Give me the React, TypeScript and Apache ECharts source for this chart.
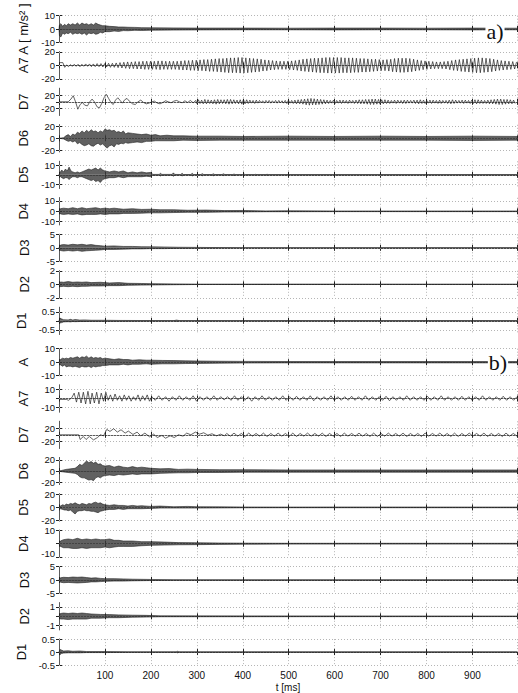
import React, { useEffect, useRef } from "react";
import * as echarts from "echarts";

// ---------------- data ----------------
const T_MAX = 997;
const xTickLabels = [100, 200, 300, 400, 500, 600, 700, 800, 900];

// envelope bands: [t(ms), upper, lower]
const aA_env = [[0,0,0],[1,3,-5],[4,4,-6],[8,2,-3],[12,3.5,-4],[16,2.5,-3],[20,4,-3.5],[25,3,-2.5],[30,4,-4],[35,3,-3],[40,4.5,-3.5],[45,3,-3],[50,4.5,-4],[55,3.5,-3],[60,4,-4.5],[65,3,-3],[70,4,-3.5],[75,3,-3],[80,4.5,-4],[85,3.5,-3.5],[90,3,-2.5],[95,2.5,-3],[100,2.5,-2],[110,2,-2],[120,1.8,-1.5],[130,1.5,-1.8],[140,1.5,-1.2],[150,1.3,-1.3],[165,1.2,-1],[180,1,-1.1],[200,0.9,-0.9],[250,0.8,-0.8],[300,0.7,-0.7],[400,0.7,-0.6],[500,0.6,-0.6],[600,0.7,-0.7],[700,0.7,-0.6],[800,0.6,-0.6],[900,0.7,-0.7],[997,0.6,-0.6]];
const aD6_env = [[0,0,0],[10,1,-1],[15,4,-3],[20,6,-5],[25,3,-4],[30,7,-6],[35,5,-4],[40,10,-9],[45,8,-7],[50,12,-10],[55,9,-12],[60,13,-11],[65,10,-9],[70,14,-12],[75,11,-13],[80,12,-10],[85,9,-8],[90,12,-11],[95,10,-9],[100,15,-13],[105,13,-16],[110,14,-12],[115,12,-11],[120,13,-14],[125,10,-9],[130,11,-10],[135,9,-8],[140,12,-9],[145,7,-7],[150,9,-8],[160,8,-7],[170,7,-6],[180,6,-7],[190,7,-5],[200,5,-5],[210,6,-4],[220,4,-4],[235,5,-4],[250,4,-4],[270,4,-3],[300,3.5,-3.5],[350,3.5,-3],[400,3,-3],[500,3.5,-3],[600,3,-3],[700,3.5,-3],[800,3,-3],[900,3.5,-3.5],[997,3,-3]];
const aD5_env = [[0,0,0],[3,3,-2],[6,5,-3],[10,3,-4],[14,6,-3],[18,4,-3],[22,8,-5],[26,4,-3],[30,3,-2],[35,2,-2],[40,3,-3],[45,2,-2],[50,3,-2],[55,4,-3],[60,5,-4],[65,6,-5],[70,5,-6],[75,6,-5],[80,7,-7],[85,5,-6],[90,7,-8],[95,5,-5],[100,4,-4],[110,3,-3],[120,4,-3],[130,3,-2],[140,4,-3],[150,2,-2],[160,3,-2],[170,2,-2],[180,3,-2],[190,2,-1.5],[200,2.5,-2],
 [204,0.4,-0.4],[218,0.4,-0.4],[221,1.5,-1.2],[224,0.4,-0.4],[246,0.4,-0.4],[249,2,-1.5],[252,0.4,-0.4],[265,0.3,-0.3],[268,1.5,-1.2],[271,0.3,-0.3],[287,0.3,-0.3],[290,1.5,-1.2],[293,0.3,-0.3],[309,0.3,-0.3],[312,1.2,-1],[315,0.3,-0.3],[333,0.3,-0.3],[336,1,-1],[339,0.3,-0.3],[355,0.3,-0.3],[358,1,-0.8],[361,0.3,-0.3],[378,0.2,-0.2],[381,0.8,-0.8],[384,0.2,-0.2],[400,0.2,-0.2],[403,0.7,-0.6],[406,0.2,-0.2],[425,0.2,-0.2],[428,0.5,-0.5],[431,0.2,-0.2],[450,0.2,-0.2],[453,0.5,-0.4],[456,0.2,-0.2],[997,0.2,-0.2]];
const aD4_env = [[0,0,0],[3,2.5,-2.5],[10,3,-3],[20,2.5,-2.5],[30,3.5,-3],[40,2.5,-2.5],[50,3.5,-3.5],[60,2.5,-3],[70,3,-3],[80,3.5,-3],[90,2.5,-2.5],[100,3,-3],[110,2.5,-2.5],[120,3,-2.5],[130,2.5,-2.5],[140,2,-2],[160,2.5,-2],[180,1.8,-1.8],[200,2,-1.5],[220,1.5,-1.5],[250,1.5,-1.2],[280,1,-1],[320,1.2,-1],[360,0.7,-0.7],[400,0.8,-0.6],[450,0.4,-0.4],[500,0.5,-0.4],[600,0.3,-0.3],[997,0.3,-0.3]];
const aD3_env = [[0,0,0],[3,1,-1],[10,1.2,-1.2],[20,1,-1],[30,1.3,-1.2],[40,1.1,-1],[50,1.3,-1.3],[60,1,-1.1],[70,1.2,-1],[80,0.9,-0.9],[90,0.8,-0.8],[100,0.6,-0.6],[120,0.7,-0.6],[140,0.5,-0.5],[160,0.5,-0.4],[180,0.4,-0.4],[200,0.35,-0.3],[230,0.3,-0.3],[260,0.2,-0.2],[300,0.15,-0.15],[350,0.08,-0.08],[400,0.05,-0.05],[997,0.05,-0.05]];
const aD2_env = [[0,0,0],[3,0.35,-0.35],[10,0.3,-0.3],[20,0.4,-0.35],[30,0.3,-0.3],[40,0.35,-0.35],[50,0.3,-0.3],[60,0.35,-0.3],[70,0.25,-0.25],[90,0.3,-0.25],[110,0.2,-0.2],[130,0.25,-0.2],[150,0.15,-0.15],[180,0.12,-0.12],[200,0.1,-0.1],[250,0.06,-0.06],[300,0.03,-0.03],[997,0.02,-0.02]];
const aD1_env = [[0,0,0],[2,0.15,-0.12],[6,0.1,-0.1],[10,0.06,-0.06],[20,0.05,-0.05],[25,0.08,-0.06],[30,0.04,-0.04],[35,0.07,-0.05],[45,0.04,-0.04],[55,0.05,-0.04],[70,0.03,-0.03],[100,0.03,-0.03],[130,0.02,-0.02],[250,0.01,-0.01],[256,0.04,-0.03],[262,0.01,-0.01],[997,0.01,-0.01]];

const bA_env = [[0,0,0],[3,2,-2],[8,3,-3],[12,2.5,-2],[16,3,-3.5],[20,2.5,-3],[25,3.5,-3],[30,3,-3.5],[35,3.5,-3],[40,4,-3.5],[45,3,-4],[50,4,-3],[55,3.5,-3.5],[60,4.5,-3.5],[65,3,-3],[70,4,-4],[75,3,-3],[80,3.5,-3.5],[85,3,-3],[90,3.5,-3],[95,2.5,-2.5],[100,3,-2.5],[110,2.5,-2],[120,2,-2],[130,2.5,-2],[140,2,-1.5],[150,2,-2],[160,1.5,-1.5],[175,1.8,-1.5],[190,1.5,-1.2],[200,1.5,-1.5],[225,1.3,-1.2],[250,1.2,-1.2],[275,1,-1],[300,0.9,-0.9],[350,0.7,-0.7],[400,0.6,-0.6],[500,0.5,-0.5],[600,0.5,-0.5],[700,0.5,-0.5],[800,0.5,-0.5],[900,0.5,-0.5],[997,0.5,-0.5]];
const bD6_env = [[0,0,0],[5,1,-1],[15,3,-2],[25,4,-3],[35,5,-4],[40,8,-6],[45,12,-10],[50,10,-12],[55,14,-12],[60,18,-14],[65,15,-16],[70,17,-15],[75,14,-17],[80,16,-12],[85,12,-10],[90,13,-12],[95,10,-9],[100,9,-8],[110,10,-7],[120,7,-8],[130,9,-6],[140,7,-7],[150,6,-6],[160,8,-5],[170,6,-6],[180,7,-5],[190,6,-5],[200,5,-5],[220,4,-4],[240,4.5,-3.5],[260,3,-3],[280,3.5,-3],[300,3,-2.5],[350,2.5,-2.5],[400,2.5,-2],[500,2,-2],[600,2,-2],[800,2,-2],[997,2,-2]];
const bD5_env = [[0,0,0],[3,2,-2],[8,4,-3],[12,3,-4],[16,5,-4],[20,4,-5],[25,6,-4],[30,5,-7],[35,7,-10],[40,5,-6],[45,4,-5],[50,6,-5],[55,5,-4],[60,4,-5],[65,6,-5],[70,5,-6],[75,7,-6],[80,8,-7],[85,6,-8],[90,7,-6],[95,5,-5],[100,4,-4],[110,3,-3],[120,4,-3],[130,3,-2],[140,3,-3],[150,2,-2],[160,3,-2],[170,2,-2],[180,2.5,-2],[200,1.5,-1.5],[220,2,-1],[250,1,-1],[280,1.5,-1],[300,1,-1],[350,0.8,-0.8],[400,0.6,-0.6],[500,0.5,-0.5],[600,0.6,-0.5],[997,0.5,-0.5]];
const bD4_env = [[0,0,0],[3,2,-2],[10,3,-3],[20,3.5,-3],[30,3,-3.5],[40,4,-3.5],[50,3,-3],[60,3.5,-3.5],[70,3,-3],[80,3.5,-3],[90,3,-3],[100,3,-2.5],[110,3.5,-3],[120,2.5,-2.5],[130,2.5,-2],[140,2,-2],[160,2,-2],[180,1.5,-1.5],[200,1.5,-1.2],[230,1.2,-1],[260,0.8,-0.8],[300,0.7,-0.7],[350,0.5,-0.5],[400,0.4,-0.4],[500,0.3,-0.3],[997,0.3,-0.3]];
const bD3_env = [[0,0,0],[3,0.8,-0.8],[10,1,-1],[20,0.9,-0.9],[30,1.1,-1],[40,1,-1.1],[50,1.1,-1],[60,0.9,-0.9],[70,0.7,-0.7],[80,0.8,-0.7],[90,0.6,-0.6],[100,0.5,-0.5],[120,0.5,-0.4],[140,0.4,-0.4],[160,0.3,-0.3],[200,0.2,-0.2],[250,0.1,-0.1],[300,0.05,-0.05],[997,0.05,-0.05]];
const bD2_env = [[0,0,0],[3,0.3,-0.3],[10,0.35,-0.3],[20,0.3,-0.35],[30,0.35,-0.3],[40,0.3,-0.3],[50,0.35,-0.3],[60,0.3,-0.3],[70,0.25,-0.2],[90,0.2,-0.2],[110,0.18,-0.15],[130,0.15,-0.15],[160,0.12,-0.1],[190,0.1,-0.08],[220,0.05,-0.05],[997,0.03,-0.03]];
const bD1_env = [[0,0,0],[2,0.1,-0.1],[5,0.08,-0.06],[10,0.04,-0.04],[20,0.05,-0.03],[30,0.03,-0.03],[45,0.04,-0.03],[60,0.02,-0.02],[100,0.02,-0.02],[150,0.01,-0.01],[255,0.01,-0.01],[258,0.03,-0.03],[261,0.01,-0.01],[997,0.01,-0.01]];

// oscillation extrema, one value every DT ms
const aA7_dt = 4.15;
const aA7 = [4,4,4,
 -3,0.5,-2,1,-1.5,1.5,-1.5,1.5,-2,1.5,-1.5,2,-1.5,2,-2,2,-2,2.5,-2,2.5,-2.5,2.5,-2.5,3,-3,3,-3,
 3.5,-3.5,4,-4,4.5,-4.5,5,-5,5,-5,5.5,-5.5,5.5,-5.5,6,-6,6,-6,6,
 -6,6,-6,6.5,-6.5,6.5,-6,6,-6,6,-6,6,-6,6,-6.5,6.5,-7,7,-7,7,-7.5,7.5,-7.5,7.5,
 -8,8,-8,8.5,-8.5,8.5,-9,9,-9,9.5,-9.5,10,-10,10,-10.5,10.5,-11,11,-11,
 11,-11,11.5,-11.5,11.5,-11.5,11,-11,10.5,-10.5,10,-10,9.5,-9.5,9,-8.5,8,-8,7.5,-7,7,-6.5,
 6.5,-6,6,-6,6,-6,6,-6.5,6.5,-7,7,-7.5,
 8,-8.5,9,-9,9.5,-9.5,10,-10,10.5,-10.5,
 10.5,-11,11,-11,11.5,-11.5,11.5,-11.5,11.5,-11.5,11.5,-11.5,11.5,-11,11,-11,11,-11,11,-10.5,10.5,-10.5,10,-10,10,-10,9.5,-9.5,9,-9,9,-8.5,8.5,
 -8,8,-8,8.5,-8.5,
 9,-9.5,10,-10,10.5,-10.5,10.5,-10.5,10.5,-10,10,-9.5,9,-8.5,8,-7.5,7,-6.5,6.5,-6,
 6,-5.5,5.5,-5,5,-5,5,-5,5.5,-5.5,6,-6.5,7,-7.5,8,-8,8.5,-9,9,
 -9.5,9.5,-10,10,-10.5,10.5,-11,11,-11,11,-10.5,10.5,-10,10,-9.5,9,-8.5,8,-7.5,
 7,-7,6.5,-6.5,6,-6,5.5,-5.5,5];

// D7 (a): slow part as [t, value], then fast ripple every aD7_dt ms from aD7_t0
const aD7_slow = [[0,0],[20,0],[26,8],[31,18],[36,0],[41,-22],[46,-8],[51,-2],[56,-10],[62,-12],[67,0],[72,8],[77,0],[83,-15],[88,-18],[93,-5],[98,12],[103,22],[108,10],[113,-2],[118,-8],[123,5],[128,12],[133,4],[138,-4],[143,6],[148,10],[153,2],[160,-6],[166,-8],[172,0],[178,5],[184,-2],[190,-6],[196,-4],[202,0],[208,2],[214,-4],[220,-6],[226,-2],[232,3],[238,0],[244,-3],[250,2],[256,4],[262,0],[268,-3],[274,3],[280,-2],[286,4],[292,-3],[298,4]];
const aD7_t0 = 300;
const aD7_dt = 3.5;
const aD7_fast = [-5,6,-5,5,-6,7,-6,6,-5,5,-6,6,-7,7,-6,6,-5,6,-6,7,-7,7,-6,6,-5,5,-6,6,-7,7,-6,6,-5,5,-4,4,-5,5,
 -4,4,-3,3,-4,4,-3,4,-4,3,-3,4,-4,4,-3,3,-4,4,-5,5,-4,4,-5,5,-6,6,-6,7,-7,
 8,-9,9,-10,10,-9,9,-9,8,-8,7,-7,6,-6,5,
 -5,4,-4,5,-5,4,-4,5,-5,5,-4,4,-5,5,-4,4,-5,5,-5,6,-6,6,-6,7,-7,7,
 -8,8,-8,8,-7,7,-7,6,-6,6,
 -5,5,-5,4,-4,5,-5,5,-4,4,-5,5,-5,5,-4,4,-4,5,-5,5,-6,6,-5,5,-5,4,-4,5,
 -5,5,-4,4,-5,5,-5,4,-4,4,-5,5,-6,6,-5,5,-4,4,-4,5,-5,5,-4,4,-5,5,-5,6,-6,6,-5,5,-5,4,-5,5,-6,6,-6,7,
 -7,8,-8,8,-8,7,-7,7,-6,6,-6,5,-5];

// A7 (b)
const bA7_early = [[0,-1],[16,-1],[21,-2],[28,1],[33,6],[38,-4],[43,7],[48,-5],[53,7],[58,-6],[63,8],[68,-6],[72,6],[77,-5],[82,7],[87,-6],[92,6],[97,-3],[102,7],[107,-2],[112,4],[117,-3],[122,5],[127,-2],[132,3],[137,-3],[142,4],[147,-2],[152,3],[157,-3],[162,2],[167,-2],[172,4],[177,-3],[182,3],[187,-2],[192,4],[197,-3]];
const bA7_t0 = 202;
const bA7_dt = 7.5;
const bA7_late = [2,-2,3,-2,2,-3,2,-2,3,-2, 2,-2,3,-3,2,-2,2,-2,3,-2, 2,-1.5,2,-2,3,-2,2,-2,2,-3, 2,-2,3,-2,2,-2,2,-2,3,-2, 2,-2,2.5,-2,2,-2,3,-2.5,2,-2, 2,-2,3,-2,2,-2,2,-2,2.5,-2, 2,-2,3,-2,2,-2,2,-2,2.5,-2.5, 2,-2,2,-2,3,-2,2,-2,2,-2, 2.5,-2,2,-2,3,-2,2,-2,2,-2, 2.5,-2,2,-2,2,-2,3,-2,2,-2, 2,-2,2.5,-2,2,-2,2];

// D7 (b)
const bD7_early = [[0,0],[43,0],[46,-14],[53,-5],[59,-14],[66,-5],[75,-15],[84,-8],[90,0],[97,-3],[104,16],[111,10],[119,18],[127,8],[135,15],[144,5],[151,11],[161,1],[170,8],[178,-3],[187,5],[197,-6],[206,2],[214,-8],[224,-2],[232,-10],[242,-3],[251,-8],[260,0],[270,-4],[278,5],[287,0],[297,8],[306,2],[315,6],[324,-1],[333,3],[343,-3],[352,2],[360,-3]];
const bD7_t0 = 365;
const bD7_dt = 8;
const bD7_late = [4,-4,5,-4,4,-5,5,-4,4,-4,5,-5,4,-4,5,-4,4,-5,5,-5,4,-4,5,-4,4,-4,5,-5,4,-4,4,-5,5,-4,4,-4,5,-4,4,-5,5,-5,4,-4,5,-4,4,-4,5,-5,4,-4,4,-5,5,-4,4,-4,5,-4,4,-5,5,-5,4,-4,5,-4,4,-4,5,-5,4,-4,4,-5,5,-4,4,-4];

// axis ranges and tick labels per panel
const panelNames = ["A [ m/s\u00B2 ]","A7","D7","D6","D5","D4","D3","D2","D1","A","A7","D7","D6","D5","D4","D3","D2","D1"];
const yRanges = [[-10,10],[-20,20],[-40,40],[-22,22],[-14,14],[-13,13],[-5,5],[-2,2],[-0.75,0.75],
                 [-10,10],[-15,15],[-40,40],[-24,24],[-20.5,20.5],[-10,10],[-5,5],[-1.45,1.45],[-0.5,0.5]];
const yTickLabels = [[-10,0,10],[-20,0,20],[-20,0,20],[-20,0,20],[-10,0,10],[-10,0,10],[-5,0,5],[-2,0,2],[-0.5,0,0.5],
                     [-10,0,10],[-10,0,10],[-20,0,20],[-20,0,20],[-20,0,20],[-10,0,10],[-5,0,5],[-1,0,1],[-0.5,0,0.5]];

// ---------------- build ----------------
const uniform = (t0: number, dt: number, vals: number[]) => vals.map((v, i) => [t0 + i * dt, v]);

const panelData: any[] = [
  { band: aA_env },
  { wave: uniform(0, aA7_dt, aA7) },
  { wave: [...aD7_slow, ...uniform(aD7_t0, aD7_dt, aD7_fast)] },
  { band: aD6_env },
  { band: aD5_env },
  { band: aD4_env },
  { band: aD3_env },
  { band: aD2_env },
  { band: aD1_env },
  { band: bA_env },
  { wave: [...bA7_early, ...uniform(bA7_t0, bA7_dt, bA7_late)] },
  { wave: [...bD7_early, ...uniform(bD7_t0, bD7_dt, bD7_late)] },
  { band: bD6_env },
  { band: bD5_env },
  { band: bD4_env },
  { band: bD3_env },
  { band: bD2_env },
  { band: bD1_env },
];

const FONT = '"Liberation Sans", Arial, Helvetica, sans-serif';
const AXIS_COLOR = "#5a5a5a";
const SIG = "#222";
const GRID_LEFT = 59;
const GRID_W = 458;
const PANEL_H = 27;
const topOf = (i: number) => (i < 9 ? 15.3 + i * 36.5 : 348.7 + (i - 9) * 36.3);

function buildOption() {
  const grid: any[] = [];
  const xAxis: any[] = [];
  const yAxis: any[] = [];
  const series: any[] = [];
  const last = panelNames.length - 1;

  panelNames.forEach((name, i) => {
    grid.push({ left: GRID_LEFT, top: topOf(i), width: GRID_W, height: PANEL_H });
    const [ymin, ymax] = yRanges[i];
    const ticks = yTickLabels[i];
    xAxis.push({
      gridIndex: i, type: "value", min: 0, max: T_MAX, interval: 100, position: "bottom",
      axisLine: { show: true, lineStyle: { color: AXIS_COLOR, width: 1 } },
      axisTick: { show: true, inside: true, length: 3, lineStyle: { color: "#222" } },
      axisLabel: {
        show: i === last, fontSize: 10, color: "#111", fontFamily: FONT, margin: 5,
        showMinLabel: false, showMaxLabel: false,
        formatter: (v: number) => (xTickLabels.includes(v) ? String(v) : ""),
      },
      splitLine: { show: true, lineStyle: { type: [1, 2], color: "#b5b5b5", width: 1 } },
      name: i === last ? "t [ms]" : "",
      nameLocation: "middle", nameGap: 17,
      nameTextStyle: { fontSize: 10, color: "#111", fontFamily: FONT },
    });
    xAxis.push({
      gridIndex: i, type: "value", min: 0, max: T_MAX, interval: 100, position: "top",
      axisLine: { show: true, lineStyle: { color: AXIS_COLOR, width: 1 } },
      axisTick: { show: true, inside: true, length: 3, lineStyle: { color: "#222" } },
      axisLabel: { show: false }, splitLine: { show: false },
    });
    yAxis.push({
      gridIndex: i, type: "value", min: ymin, max: ymax, position: "left",
      axisLine: { show: true, lineStyle: { color: AXIS_COLOR, width: 1 } },
      axisTick: { show: true, inside: true, length: 3, customValues: ticks, lineStyle: { color: "#222" } },
      axisLabel: {
        show: true, customValues: ticks, fontSize: 9.5, lineHeight: 8, color: "#111", fontFamily: FONT, margin: 4,
        showMinLabel: true, showMaxLabel: true,
        ...(i === 14 ? { verticalAlignMinLabel: "bottom" } : {}),
      },
      splitLine: { show: false },
      name, nameLocation: "middle", nameRotate: 90, nameGap: 28,
      nameTextStyle: { fontSize: 13, color: "#111", fontFamily: FONT },
    });
    yAxis.push({
      gridIndex: i, type: "value", min: ymin, max: ymax, position: "right",
      axisLine: { show: true, lineStyle: { color: AXIS_COLOR, width: 1 } },
      axisTick: { show: true, inside: true, length: 3, customValues: ticks, lineStyle: { color: "#222" } },
      axisLabel: { show: false }, splitLine: { show: false },
    });

    const markLine = {
      silent: true, symbol: "none", z: 1, animation: false,
      label: { show: false },
      lineStyle: { type: [1, 2], color: "#b5b5b5", width: 1 },
      emphasis: { disabled: true },
      data: ticks.map((v) => ({ yAxis: v })),
    };
    const common = {
      type: "line", xAxisIndex: 2 * i, yAxisIndex: 2 * i, showSymbol: false, symbol: "none",
      silent: true, animation: false, z: 3, clip: true,
    };
    const pd = panelData[i];
    if (pd.band) {
      const env = pd.band as number[][];
      series.push({
        ...common,
        data: env.map((r) => [r[0], r[1]]),
        lineStyle: { color: SIG, width: 0.6 },
        areaStyle: { color: "#3a3a3a", opacity: 0.8 },
        markLine,
      });
      series.push({
        ...common,
        data: env.map((r) => [r[0], r[2]]),
        lineStyle: { color: SIG, width: 0.6 },
        areaStyle: { color: "#3a3a3a", opacity: 0.8 },
      });
    } else {
      series.push({
        ...common,
        data: pd.wave,
        lineStyle: { color: SIG, width: 0.7 },
        markLine,
      });
    }
  });

  return {
    animation: false,
    backgroundColor: "#ffffff",
    grid, xAxis, yAxis, series,
    graphic: [
      {
        type: "text", x: 495, y: 31, z: 100,
        style: { text: "a)", align: "center", verticalAlign: "middle", fill: "#111",
          font: '22px "Liberation Serif", "Times New Roman", serif', backgroundColor: "#fff", padding: [0, 1] },
      },
      {
        type: "text", x: 498, y: 362, z: 100,
        style: { text: "b)", align: "center", verticalAlign: "middle", fill: "#111",
          font: '22px "Liberation Serif", "Times New Roman", serif', backgroundColor: "#fff", padding: [0, 1] },
      },
    ],
  };
}

export default function App() {
  const ref = useRef<HTMLDivElement | null>(null);
  useEffect(() => {
    if (!ref.current) return;
    const chart = echarts.init(ref.current, undefined, { renderer: "svg" });
    chart.setOption(buildOption() as any);
    return () => chart.dispose();
  }, []);
  return (
    <div
      ref={ref}
      style={{ position: "fixed", left: 0, top: 0, width: 518, height: 693, background: "#fff" }}
    />
  );
}
